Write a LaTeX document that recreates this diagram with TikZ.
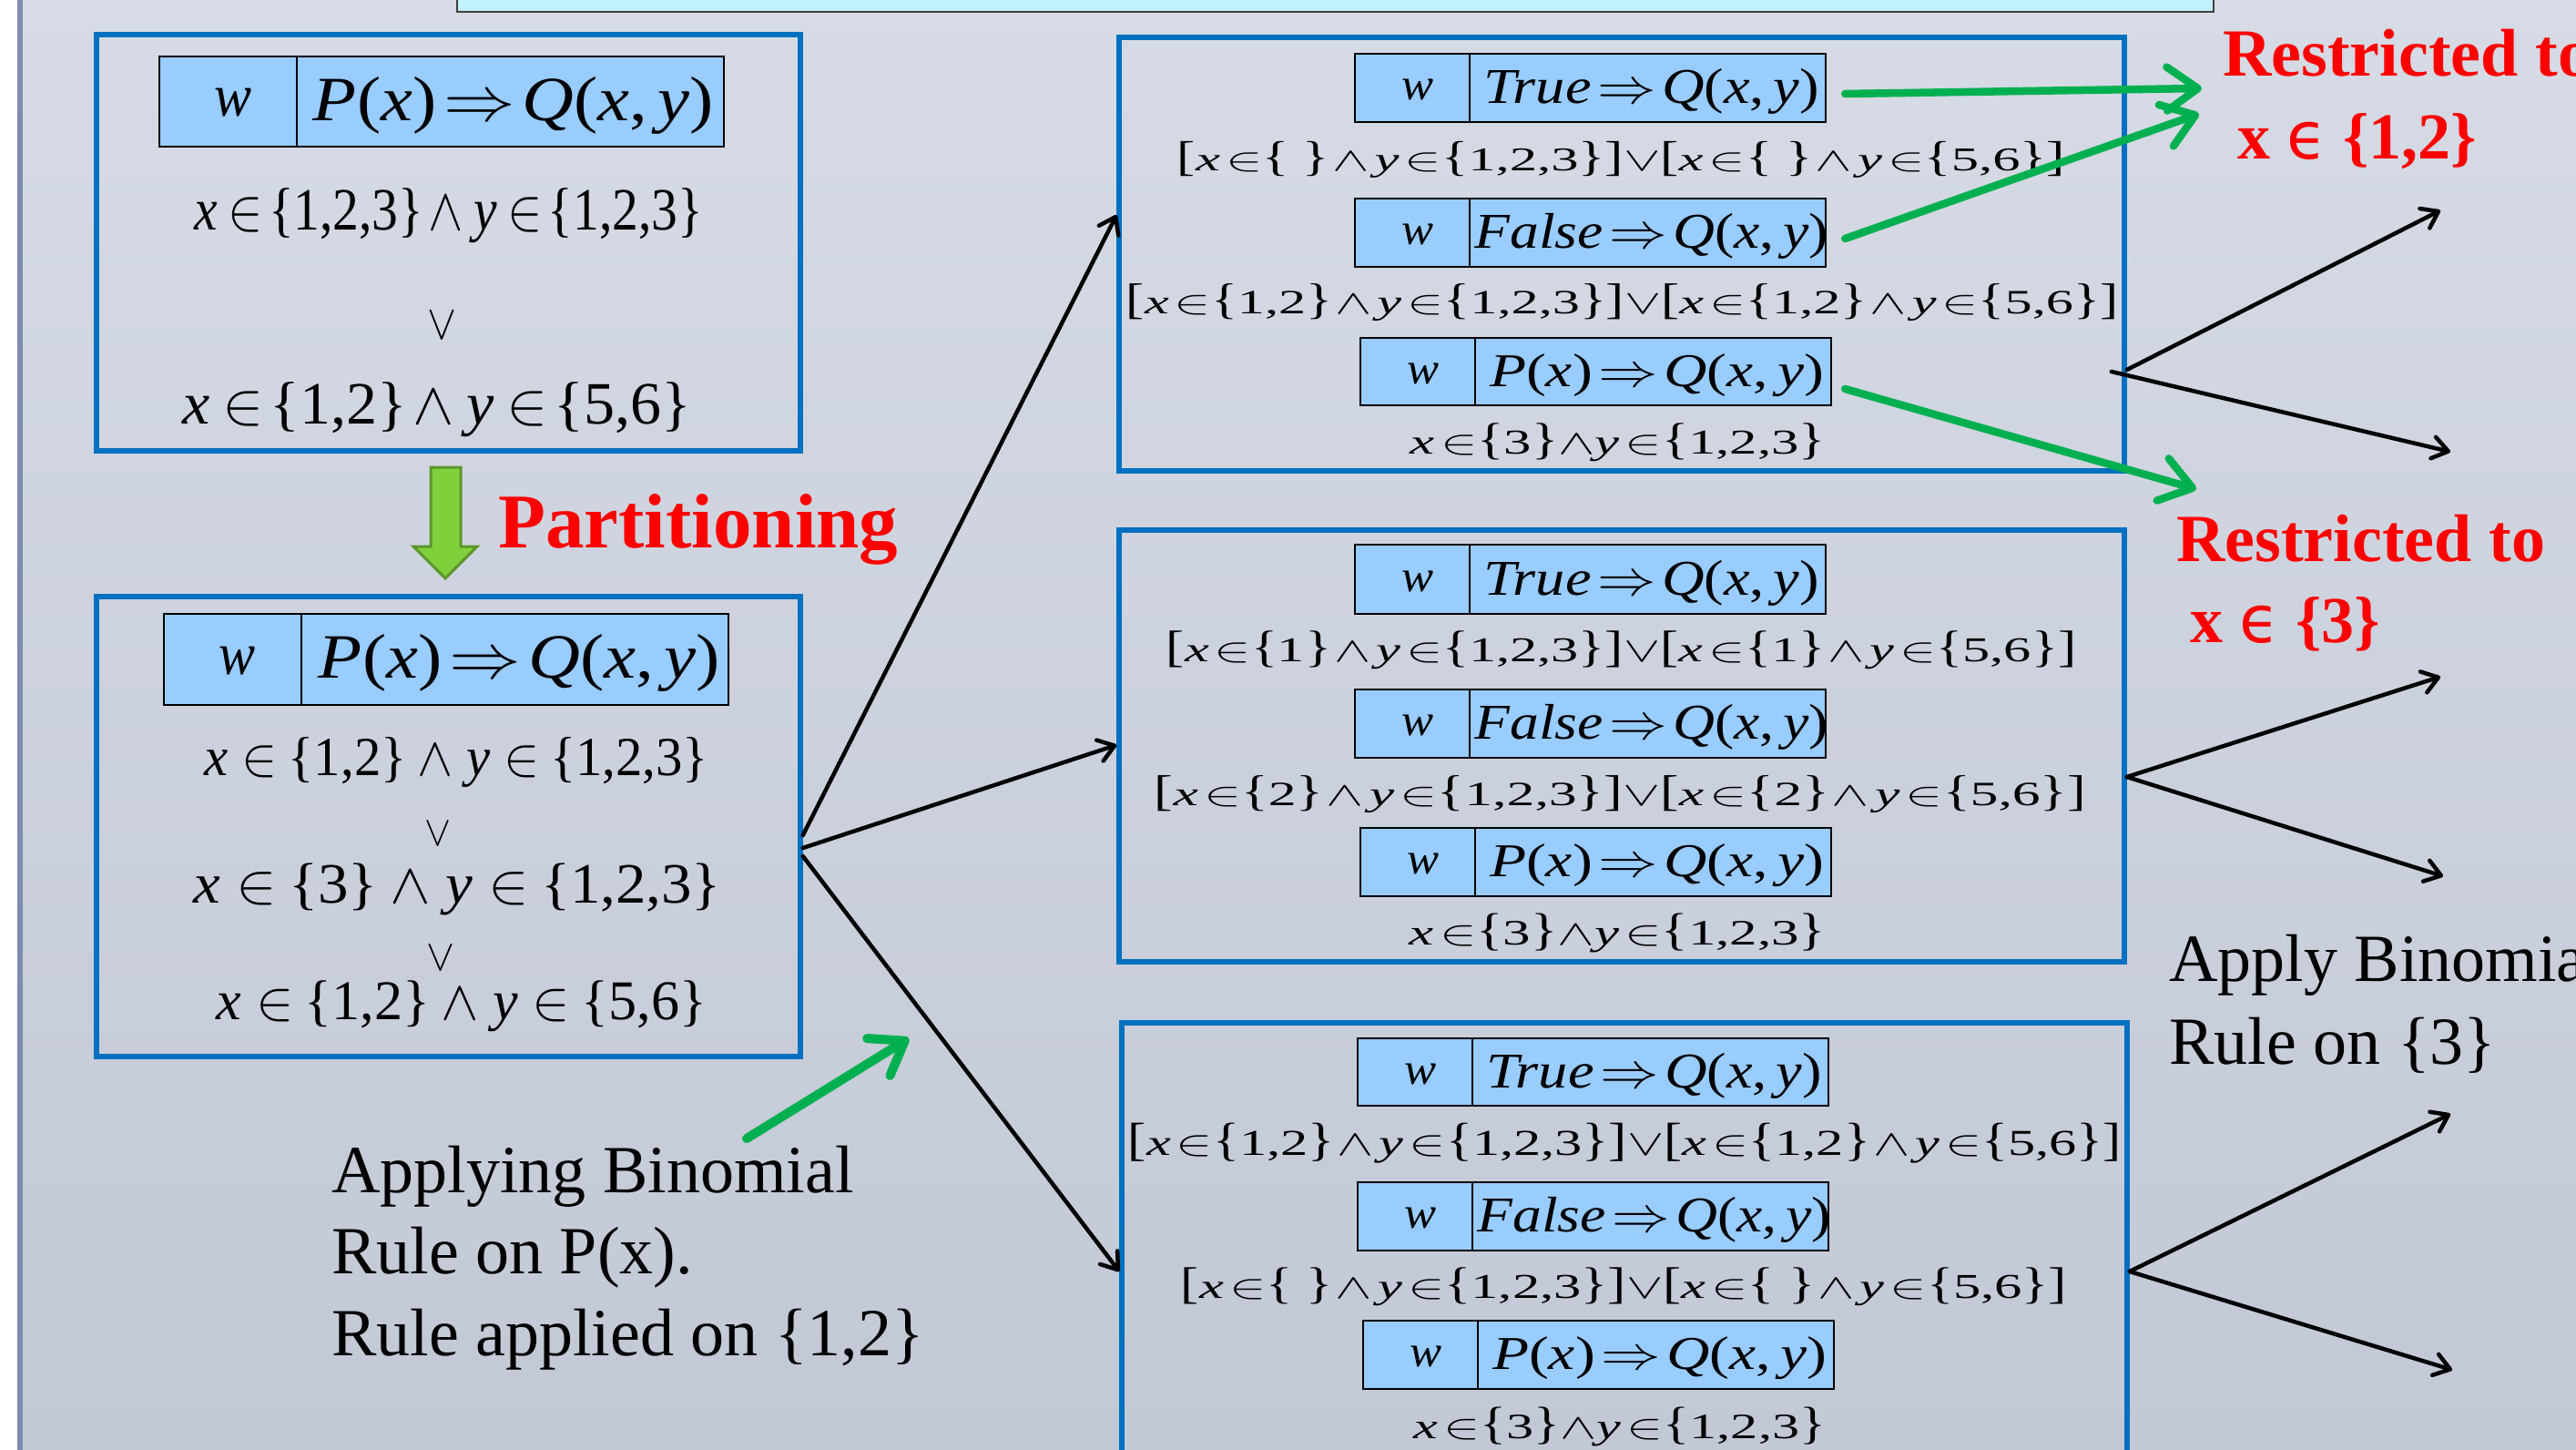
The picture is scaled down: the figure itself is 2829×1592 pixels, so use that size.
\documentclass[tikz,border=0pt]{standalone}
\usepackage{fontspec}
\setmainfont{Liberation Serif}
\newfontfamily\symf{DejaVu Sans}
\usepackage{graphicx}
\usetikzlibrary{arrows.meta,calc}

\definecolor{boxblue}{RGB}{0,112,192}
\definecolor{hdrfill}{RGB}{153,204,255}
\definecolor{garrow}{RGB}{0,176,80}
\definecolor{bgtop}{RGB}{214,219,229}
\definecolor{bgbot}{RGB}{194,200,213}
\definecolor{leftline}{RGB}{125,140,175}
\definecolor{cyanbox}{RGB}{194,241,255}
\definecolor{partfill}{RGB}{128,208,60}
\definecolor{partdraw}{RGB}{92,150,42}

\newcommand\ii[1]{\textit{#1}}
\newcommand\sIn{\ensuremath{\in}}
\newcommand\sAnd{\ensuremath{\wedge}}
\newcommand\sOr{\ensuremath{\vee}}
\newcommand\sImp{\ensuremath{\Rightarrow}}
\newcommand\EQ[3]{\resizebox*{#1pt}{#2pt}{#3}}
\newcommand\Lb{\scalebox{1}[1.27]{[}}
\newcommand\Rb{\scalebox{1}[1.27]{]}}
\newcommand\Lc{\scalebox{1}[1.27]{\{}}
\newcommand\Rc{\scalebox{1}[1.27]{\}}}
\newcommand\rp[2]{\Lb\ii{x}\hspace{.1em}\sIn\Lc#1\Rc\hspace{.05em}\sAnd\hspace{.1em}\ii{y}\hspace{.1em}\sIn\Lc#2\Rc\Rb}
\newcommand\rl[3]{\rp{#1}{#2}\sOr\rp{#1}{#3}}
\newcommand\rs{\ii{x}\hspace{.1em}\sIn\Lc3\Rc\sAnd\ii{y}\hspace{.1em}\sIn\Lc1,2,3\Rc}
\newcommand\clA[2]{\ii{x}\hspace{.2em}\sIn\hspace{.1em}\{#1\}\hspace{.1em}\sAnd\hspace{.2em}\ii{y}\hspace{.2em}\sIn\hspace{.1em}\{#2\}}
\newcommand\clB[2]{\ii{x}\hspace{.25em}\sIn\hspace{.2em}\{#1\}\hspace{.2em}\sAnd\hspace{.25em}\ii{y}\hspace{.25em}\sIn\hspace{.2em}\{#2\}}
\newcommand\TQ{\ii{True}\hspace{.1em}\sImp\hspace{.1em}\ii{Q}(\ii{x},\hspace{.15em}\ii{y})}
\newcommand\FQ{\ii{False}\hspace{.1em}\sImp\hspace{.1em}\ii{Q}(\ii{x},\hspace{.15em}\ii{y})}
\newcommand\PQ{\ii{P}(\ii{x})\hspace{.1em}\sImp\hspace{.1em}\ii{Q}(\ii{x},\hspace{.15em}\ii{y})}
\newcommand\dummyempty{\hspace{.25em}}

\tikzset{
  bluebox/.style={draw=boxblue, line width=5.5pt, inner sep=0pt},
  hcell/.style={draw=black, fill=hdrfill, line width=2.5pt, inner sep=0pt},
  eq/.style={inner sep=0pt, outer sep=0pt},
  blackarrow/.style={draw=black, line width=4.5pt, line cap=round, -{Straight Barb[length=17pt,width=24pt,round]}},
  greenarrow/.style={draw=garrow, line width=8.5pt, line cap=round, -{Straight Barb[length=34pt,width=48pt,round]}},
  redlbl/.style={text=red, font=\bfseries\fontsize{74}{80}\selectfont, inner sep=0pt, anchor=base west},
  plainlbl/.style={text=black, font=\fontsize{74}{86}\selectfont, inner sep=0pt, anchor=base west},
}

\newcommand\hdr[8]{%
  \node[hcell, minimum width=126pt, minimum height=#5pt] (#1w) at (#2,#4) {};
  \node[hcell, minimum width=391pt, minimum height=#5pt] (#1f) at (#3,#4) {};
  \node[eq] (#1wt) at ($(#1w.center)+(5.5,2)$) {\EQ{35}{23}{\ii{w}}};
  \node[eq] (#1ft) at ($(#1f.center)+(4,4)$) {\EQ{#6}{#7}{#8}};
}

\begin{document}
\begin{tikzpicture}[x=1pt,y=-1pt]
\useasboundingbox (0,0) rectangle (2829,1592);
\clip (0,0) rectangle (2829,1592);
% background
\shade[top color=bgtop,bottom color=bgbot] (25,0) rectangle (2829,1592);
\fill[white] (0,0) rectangle (19,1592);
\fill[leftline] (19,0) rectangle (25,1592);
\node[draw=black!75, fill=cyanbox, line width=2.5pt, minimum width=1929pt, minimum height=40pt, inner sep=0pt] (titlebar) at (1466.5,-7) {};

% ---------- left boxes ----------
\node[bluebox, minimum width=773pt, minimum height=457pt] (b1) at (492.5,266.5) {};
\node[hcell, minimum width=151pt, minimum height=99pt] (b1hw) at (250.5,111.5) {};
\node[hcell, minimum width=469pt, minimum height=99pt] (b1hf) at (560.5,111.5) {};
\node[eq] (b1hwt) at (256.5,112.5) {\EQ{41}{31}{\ii{w}}};
\node[eq] (b1hft) at (564,115.5) {\EQ{440}{63}{\PQ}};
\node[eq] (b1l1) at (493,237) {\EQ{558}{60}{\clA{1,2,3}{1,2,3}}};
\node[eq] (b1or) at (485,357) {\EQ{32}{30}{\sOr}};
\node[eq] (b1l2) at (480,450) {\EQ{558}{60}{\clA{1,2}{5,6}}};

\node[bluebox, minimum width=773pt, minimum height=505pt] (b2) at (492.5,907.5) {};
\node[hcell, minimum width=151pt, minimum height=100pt] (b2hw) at (255.5,724) {};
\node[hcell, minimum width=469pt, minimum height=100pt] (b2hf) at (565.5,724) {};
\node[eq] (b2hwt) at (261,725.5) {\EQ{40}{31}{\ii{w}}};
\node[eq] (b2hft) at (570.5,727.5) {\EQ{441}{63}{\PQ}};
\node[eq] (b2l1) at (501.5,837.5) {\EQ{553}{55}{\clB{1,2}{1,2,3}}};
\node[eq] (b2or1) at (480.5,915) {\EQ{29}{26}{\sOr}};
\node[eq] (b2l2) at (502.5,976.5) {\EQ{579}{57}{\clB{3}{1,2,3}}};
\node[eq] (b2or2) at (483.5,1051.5) {\EQ{31}{27}{\sOr}};
\node[eq] (b2l3) at (507,1105) {\EQ{538}{56}{\clB{1,2}{5,6}}};

% partition arrow
\draw[fill=partfill, draw=partdraw, line width=3pt, line join=miter]
  (473,513) -- (506,513) -- (506,600) -- (524,600) -- (489,635) -- (454,600) -- (473,600) -- cycle;
\node[redlbl, font=\bfseries\fontsize{85}{90}\selectfont] (part) at (547,601) {Partitioning};

% ---------- right boxes ----------
\node[bluebox, minimum width=1104pt, minimum height=476pt] (r1) at (1781,279) {};
\hdr{r1h1}{1551}{1809.5}{96.5}{75}{368}{50}{\TQ}
\hdr{r1h2}{1551}{1809.5}{255.5}{75}{388}{50}{\FQ}
\hdr{r1h3}{1557}{1815.5}{408}{74}{367}{47}{\PQ}
\node[eq] (r1t1) at (1780.5,175) {\EQ{975}{40}{\rl{\dummyempty}{1,2,3}{5,6}}};
\node[eq] (r1t2) at (1781.5,332.5) {\EQ{1089}{41}{\rl{1,2}{1,2,3}{5,6}}};
\node[eq] (r1t3) at (1777,486) {\EQ{456}{42}{\rs}};

\node[bluebox, minimum width=1104pt, minimum height=474pt] (r2) at (1781,819) {};
\hdr{r2h1}{1551}{1809.5}{636}{76}{368}{50}{\TQ}
\hdr{r2h2}{1551}{1809.5}{794.5}{75}{388}{50}{\FQ}
\hdr{r2h3}{1557}{1815.5}{946.5}{75}{367}{47}{\PQ}
\node[eq] (r2t1) at (1780.5,714) {\EQ{999}{42}{\rl{1}{1,2,3}{5,6}}};
\node[eq] (r2t2) at (1779.5,872.5) {\EQ{1023}{41}{\rl{2}{1,2,3}{5,6}}};
\node[eq] (r2t3) at (1776.5,1024.5) {\EQ{457}{43}{\rs}};

\node[bluebox, minimum width=1104pt, minimum height=546pt] (r3) at (1784,1396) {};
\hdr{r3h1}{1554}{1812.5}{1177}{74}{368}{50}{\TQ}
\hdr{r3h2}{1554}{1812.5}{1335.5}{75}{388}{50}{\FQ}
\hdr{r3h3}{1560}{1818.5}{1487.5}{75}{367}{47}{\PQ}
\node[eq] (r3t1) at (1784.5,1255) {\EQ{1091}{44}{\rl{1,2}{1,2,3}{5,6}}};
\node[eq] (r3t2) at (1783.5,1413) {\EQ{973}{42}{\rl{\dummyempty}{1,2,3}{5,6}}};
\node[eq] (r3t3) at (1779,1566.5) {\EQ{452}{43}{\rs}};

% ---------- labels ----------
\node[redlbl] (rest1) at (2441,84) {Restricted to};
\node[redlbl, font=\bfseries\fontsize{72}{80}\selectfont] (set1) at (2457,174) {x {\symf\mdseries ϵ} \{1,2\}};
\node[redlbl] (rest2) at (2390,616) {Restricted to};
\node[redlbl, font=\bfseries\fontsize{72}{80}\selectfont] (set2) at (2405,705) {x {\symf\mdseries ϵ} \{3\}};
\node[plainlbl] (app1) at (2382,1077) {Apply Binomial};
\node[plainlbl] (app2) at (2382,1168) {Rule on \{3\}};
\node[plainlbl] (bin1) at (364,1309) {Applying Binomial};
\node[plainlbl] (bin2) at (364,1398) {Rule on P(x).};
\node[plainlbl] (bin3) at (364,1488) {Rule applied on \{1,2\}};

% ---------- black connectors ----------
\draw[blackarrow] ([yshift=-9.5pt]b2.east) -- ([yshift=43pt]r1.west);
\draw[blackarrow] ([yshift=-23.5pt]b2.east) -- ([yshift=1pt]r2.west);
\draw[blackarrow] ([yshift=-32.5pt]b2.east) -- (r3.west);

\coordinate (t1u) at (2680,231);
\coordinate (t1d) at (2691,496);
\coordinate (t2u) at (2680,743);
\coordinate (t2d) at (2683,962);
\coordinate (t3u) at (2691,1223);
\coordinate (t3d) at (2693,1504);
\draw[blackarrow] ([yshift=-127pt]r1.east) -- (t1u);
\draw[blackarrow] ([xshift=-17pt,yshift=-129pt]r1.east) -- (t1d);
\draw[blackarrow] ([yshift=-34pt]r2.east) -- (t2u);
\draw[blackarrow] ([yshift=-34pt]r2.east) -- (t2d);
\draw[blackarrow] (r3.east) -- (t3u);
\draw[blackarrow] (r3.east) -- (t3d);

% ---------- green connectors ----------
\coordinate (g1e) at (2418,97);
\coordinate (g2e) at (2415,125);
\coordinate (g3e) at (2412,537);
\draw[greenarrow] ($(r1h1f.east)+(20,6.5)$) -- (g1e);
\draw[greenarrow] ($(r1h2f.east)+(20,6.5)$) -- (g2e);
\draw[greenarrow] ($(r1h3f.east)+(14,19)$) -- (g3e);
\coordinate (g4s) at (820,1250);
\coordinate (g4e) at (998,1140);
\draw[greenarrow, line width=10pt] (g4s) -- (g4e);
\end{tikzpicture}
\end{document}
